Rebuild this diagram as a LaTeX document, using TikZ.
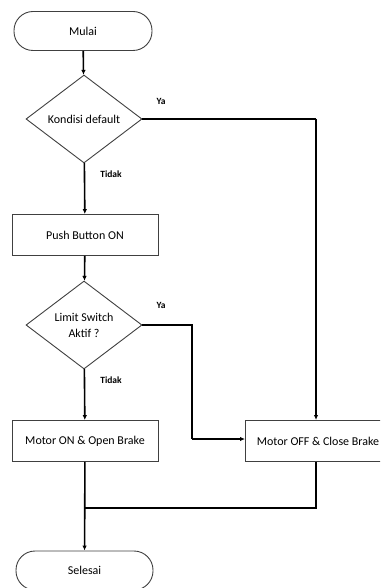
\documentclass[tikz,border=0pt]{standalone}
\usepackage{fontspec}
\setmainfont{Carlito}
\usetikzlibrary{shapes.geometric,arrows.meta}
\tikzset{
  shapeline/.style={draw=black!75, line width=0.9pt, fill=white, font=\fontsize{12}{14}\selectfont, inner sep=0pt, align=center},
  term/.style={shapeline, rectangle, rounded corners=19pt},
  proc/.style={shapeline, rectangle},
  dec/.style={shapeline, diamond, minimum width=116pt, minimum height=88pt},
  conn/.style={line width=1.6pt, black},
  arr/.style={conn, -{Latex[length=5pt,width=4.5pt]}},
  lbl/.style={font=\fontsize{9.5}{11}\selectfont\bfseries, inner sep=0pt}
}
\begin{document}
\begin{tikzpicture}[x=1pt,y=-1pt]
\useasboundingbox (0,0) rectangle (380,588);
\clip (0,0) rectangle (380,588);
\node[term, minimum width=138pt, minimum height=39pt] (mulai) at (83,31) {Mulai};
\node[dec] (d1) at (84,119) {Kondisi default};
\node[proc, minimum width=146pt, minimum height=41pt] (pb) at (85,235) {Push Button ON};
\node[dec] (d2) at (84,325) {Limit Switch\\[2pt]Aktif ?};
\node[proc, minimum width=146pt, minimum height=41pt] (mon) at (85,441) {Motor ON \& Open Brake};
\node[proc, minimum width=146pt, minimum height=41pt] (moff) at (318,441) {Motor OFF \& Close Brake};
\node[term, minimum width=137pt, minimum height=39pt] (sel) at (84.5,570.5) {Selesai};
\coordinate (c1) at (316,119);
\coordinate (c1b) at (316,420);
\coordinate (c2) at (192,325);
\coordinate (c3) at (192,439);
\coordinate (c3b) at (245,439);
\coordinate (j) at (84,508);
\coordinate (k) at (316,508);
\coordinate (k0) at (316,461.5);
\draw[arr] (mulai) -- (d1);
\draw[arr] (d1) -- (pb);
\draw[arr] (pb) -- (d2);
\draw[arr] (d2) -- (mon);
\draw[conn] (d1.east) -- (c1);
\draw[arr] (c1) -- (c1b);
\draw[conn] (d2.east) -- (c2) -- (c3);
\draw[arr] (c3) -- (c3b);
\draw[arr] (mon) -- (sel);
\draw[conn] (k0) -- (k) -- (j);
\node[lbl] (ya1) at (161,101) {Ya};
\node[lbl] (t1) at (111,174) {Tidak};
\node[lbl] (ya2) at (161,305) {Ya};
\node[lbl] (t2) at (111,380) {Tidak};
\end{tikzpicture}
\end{document}
